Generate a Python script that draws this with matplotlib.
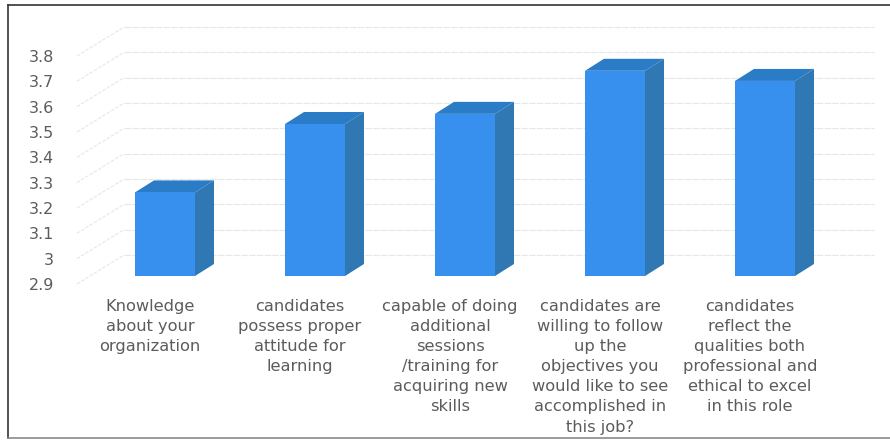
import numpy as np, matplotlib
matplotlib.use("Agg"); import matplotlib.pyplot as plt
from matplotlib.lines import Line2D
from matplotlib.patches import Polygon

categories = ["Knowledge\nabout your\norganization",
              "candidates\npossess proper\nattitude for\nlearning",
              "capable of doing\nadditional\nsessions\n/training for\nacquiring new\nskills",
              "candidates are\nwilling to follow\nup the\nobjectives you\nwould like to see\naccomplished in\nthis job?",
              "candidates\nreflect the\nqualities both\nprofessional and\nethical to excel\nin this role"]
values = [3.23, 3.50, 3.54, 3.71, 3.67]
ticks = [2.9, 3.0, 3.1, 3.2, 3.3, 3.4, 3.5, 3.6, 3.7, 3.8]
tick_labels = ["2.9", "3", "3.1", "3.2", "3.3", "3.4", "3.5", "3.6", "3.7", "3.8"]

W, H = 890, 441
plt.rcParams["font.family"] = ["DejaVu Sans"]
fig = plt.figure(figsize=(W/100, H/100), dpi=100)
# front plane of the fake 3d box, in pixels: x 77-827, y 56-284
ax = fig.add_axes([77/W, 1-284/H, 750/W, 228/H])
ax.set_xlim(-0.5, 4.5); ax.set_ylim(2.9, 3.8)
for s in ax.spines.values(): s.set_visible(False)
px = 5/750; py = 0.9/228   # one pixel in data units

# walls
wx, wy = 47*px, 29*py
grid = "#e6e6e6"
for t in ticks:
    ax.plot([-0.5, -0.5+wx], [t, t+wy], color=grid, lw=0.8, ls=(0, (3, 1.5)), clip_on=False, zorder=1)
    ax.plot([-0.5+wx, 4.5+wx], [t+wy, t+wy], color=grid, lw=0.8, ls=(0, (6, 1)), clip_on=False, zorder=1)

# bars sit a little way into the box
bx, by = 13*px, 8*py
dx, dy = 19*px, 12*py
w = 60*px
x = np.arange(len(values))
front, top_c, side = "#3790ee", "#2b7cc6", "#2f78b4"
base = ticks[0]+by
ax.bar(x+bx, [v-ticks[0] for v in values], bottom=base, width=w, color=front, zorder=3, clip_on=False)
for xi, v in zip(x+bx, values):
    l, r, t = xi-w/2, xi+w/2, v+by
    ax.add_patch(Polygon([(l, t), (r, t), (r+dx, t+dy), (l+dx, t+dy)], fc=top_c, ec="none", zorder=2, clip_on=False))
    ax.add_patch(Polygon([(r, base), (r+dx, base+dy), (r+dx, t+dy), (r, t)], fc=side, ec="none", zorder=2, clip_on=False))

ax.set_yticks(ticks, tick_labels)
ax.set_xticks(x-2*px, categories)
ax.tick_params(axis="y", length=0, pad=16.5, labelsize=11.5, labelcolor="#5c5c5c")
ax.tick_params(axis="x", length=0, pad=11, labelsize=11.7, labelcolor="#5c5c5c")
for lab in ax.get_xticklabels(): lab.set_linespacing(1.42); lab.set_ha("center")

# scanned frame, no right edge
def fl(x0, y0, x1, y1, c, lw):
    fig.add_artist(Line2D([x0/W, x1/W], [1-y0/H, 1-y1/H], color=c, lw=lw))
fl(8, 5, 890, 5, "#333333", 1.2)
fl(8, 5, 8, 438, "#333333", 1.2)
fl(8, 438, 890, 438, "#8a8a8a", 1.2)

fig.savefig("out.png", dpi=100)
